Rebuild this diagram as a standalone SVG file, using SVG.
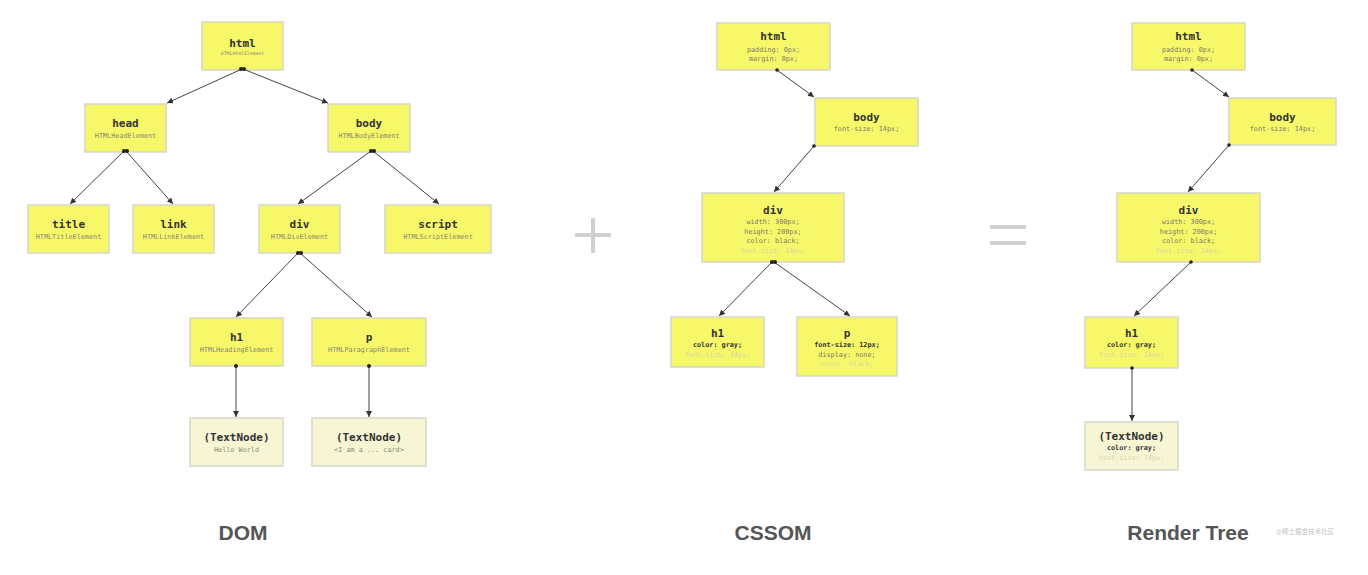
<svg xmlns="http://www.w3.org/2000/svg" width="1368" height="575" viewBox="0 0 1368 575">
<style>
.n{fill:#f7f76a;stroke:#d6d6c8;stroke-width:1.5}
.t{fill:#f6f6d4;stroke:#d6d6c8;stroke-width:1.5}
.h{font-family:"DejaVu Sans Mono",monospace;font-size:11px;font-weight:bold;fill:#333;text-anchor:middle}
.s{font-family:"DejaVu Sans Mono",monospace;font-size:6.8px;fill:#8a8a70;text-anchor:middle}
.c{font-family:"DejaVu Sans Mono",monospace;font-size:6.8px;fill:#7a7a66;text-anchor:middle}
.e{font-family:"DejaVu Sans Mono",monospace;font-size:6.8px;fill:#333;font-weight:bold;text-anchor:middle}
.f{font-family:"DejaVu Sans Mono",monospace;font-size:6.8px;fill:#d8d8a4;text-anchor:middle}
.lbl{font-family:"Liberation Sans",Arial,sans-serif;font-size:21px;font-weight:bold;fill:#555;text-anchor:middle}
.k{stroke:#444;stroke-width:1;fill:none;marker-end:url(#arr)}
.d{fill:#222}
</style>
<defs>
<marker id="arr" markerUnits="userSpaceOnUse" markerWidth="7" markerHeight="6" refX="6" refY="3" orient="auto"><path d="M0,0 L6,3 L0,6 z" fill="#333"/></marker>
</defs>
<rect width="1368" height="575" fill="#fff"/>

<!-- DOM -->
<g id="dom-html"><rect class="n" x="202" y="22" width="81" height="48"/><text class="h" x="242.5" y="47">html</text><text class="s" x="242.5" y="55" style="font-size:4.8px">HTMLHtmlElement</text></g>
<g id="dom-head"><rect class="n" x="85" y="104" width="81" height="48"/><text class="h" x="125.5" y="127">head</text><text class="s" x="125.5" y="138">HTMLHeadElement</text></g>
<g id="dom-body"><rect class="n" x="328" y="104" width="82" height="48"/><text class="h" x="369" y="127">body</text><text class="s" x="369" y="138">HTMLBodyElement</text></g>
<g id="dom-title"><rect class="n" x="28" y="205" width="81" height="48"/><text class="h" x="68.5" y="228">title</text><text class="s" x="68.5" y="239">HTMLTitleElement</text></g>
<g id="dom-link"><rect class="n" x="133" y="205" width="81" height="48"/><text class="h" x="173.5" y="228">link</text><text class="s" x="173.5" y="239">HTMLLinkElement</text></g>
<g id="dom-div"><rect class="n" x="259" y="205" width="81" height="48"/><text class="h" x="299.5" y="228">div</text><text class="s" x="299.5" y="239">HTMLDivElement</text></g>
<g id="dom-script"><rect class="n" x="385" y="205" width="106" height="48"/><text class="h" x="438" y="228">script</text><text class="s" x="438" y="239">HTMLScriptElement</text></g>
<g id="dom-h1"><rect class="n" x="190" y="318" width="93" height="48"/><text class="h" x="236.5" y="341">h1</text><text class="s" x="236.5" y="352">HTMLHeadingElement</text></g>
<g id="dom-p"><rect class="n" x="312" y="318" width="114" height="48"/><text class="h" x="369" y="341">p</text><text class="s" x="369" y="352">HTMLParagraphElement</text></g>
<g id="dom-text1"><rect class="t" x="190" y="418" width="93" height="48"/><text class="h" x="236.5" y="441">(TextNode)</text><text class="s" x="236.5" y="452">Hello World</text></g>
<g id="dom-text2"><rect class="t" x="312" y="418" width="114" height="48"/><text class="h" x="369" y="441">(TextNode)</text><text class="s" x="369" y="452">&lt;I am a ... card&gt;</text></g>

<!-- CSSOM -->
<g id="css-html"><rect class="n" x="717" y="23" width="113" height="47"/><text class="h" x="773.5" y="40">html</text><text class="c" x="773.5" y="52">padding: 0px;</text><text class="c" x="773.5" y="61">margin: 0px;</text></g>
<g id="css-body"><rect class="n" x="815" y="98" width="103" height="48"/><text class="h" x="866.5" y="121">body</text><text class="c" x="866.5" y="131">font-size: 14px;</text></g>
<g id="css-div"><rect class="n" x="702" y="193" width="142" height="69"/><text class="h" x="773" y="214">div</text><text class="c" x="773" y="224">width: 300px;</text><text class="c" x="773" y="233.5">height: 200px;</text><text class="c" x="773" y="243">color: black;</text><text class="f" x="773" y="252.5">font-size: 14px;</text></g>
<g id="css-h1"><rect class="n" x="671" y="317" width="93" height="50"/><text class="h" x="717.5" y="337">h1</text><text class="e" x="717.5" y="347">color: gray;</text><text class="f" x="717.5" y="356.5">font-size: 14px;</text></g>
<g id="css-p"><rect class="n" x="797" y="317" width="100" height="59"/><text class="h" x="847" y="337">p</text><text class="e" x="847" y="347">font-size: 12px;</text><text class="c" x="847" y="356.5">display: none;</text><text class="f" x="847" y="366">color: black;</text></g>

<!-- Render Tree -->
<g id="rt-html"><rect class="n" x="1132" y="23" width="113" height="47"/><text class="h" x="1188.5" y="40">html</text><text class="c" x="1188.5" y="52">padding: 0px;</text><text class="c" x="1188.5" y="61">margin: 0px;</text></g>
<g id="rt-body"><rect class="n" x="1229" y="98" width="107" height="47"/><text class="h" x="1282.5" y="121">body</text><text class="c" x="1282.5" y="131">font-size: 14px;</text></g>
<g id="rt-div"><rect class="n" x="1117" y="193" width="143" height="69"/><text class="h" x="1188.5" y="214">div</text><text class="c" x="1188.5" y="224">width: 300px;</text><text class="c" x="1188.5" y="233.5">height: 200px;</text><text class="c" x="1188.5" y="243">color: black;</text><text class="f" x="1188.5" y="252.5">font-size: 14px;</text></g>
<g id="rt-h1"><rect class="n" x="1085" y="317" width="93" height="51"/><text class="h" x="1131.5" y="337">h1</text><text class="e" x="1131.5" y="347">color: gray;</text><text class="f" x="1131.5" y="356.5">font-size: 14px;</text></g>
<g id="rt-text"><rect class="t" x="1085" y="422" width="93" height="48"/><text class="h" x="1131.5" y="440">(TextNode)</text><text class="e" x="1131.5" y="450">color: gray;</text><text class="f" x="1131.5" y="459.5">font-size: 14px;</text></g>

<g id="connectors">
<line class="k" x1="242" y1="69" x2="167" y2="103"/>
<line class="k" x1="243" y1="69" x2="328" y2="103"/>
<line class="k" x1="124" y1="151" x2="70" y2="204"/>
<line class="k" x1="126" y1="151" x2="173" y2="204"/>
<line class="k" x1="371" y1="151" x2="298" y2="204"/>
<line class="k" x1="373" y1="151" x2="439" y2="204"/>
<line class="k" x1="298" y1="253" x2="236" y2="317"/>
<line class="k" x1="300" y1="253" x2="372" y2="317"/>
<line class="k" x1="236" y1="366" x2="236" y2="417"/>
<line class="k" x1="369" y1="366" x2="369" y2="417"/>

<line class="k" x1="777" y1="70" x2="814" y2="97"/>
<line class="k" x1="814" y1="146" x2="774" y2="192"/>
<line class="k" x1="772" y1="262" x2="719" y2="316"/>
<line class="k" x1="774" y1="262" x2="850" y2="316"/>

<line class="k" x1="1192" y1="70" x2="1229" y2="97"/>
<line class="k" x1="1229" y1="145" x2="1188" y2="192"/>
<line class="k" x1="1191" y1="262" x2="1134" y2="316"/>
<line class="k" x1="1132" y1="368" x2="1132" y2="421"/>

<circle class="d" cx="241" cy="69" r="2"/><circle class="d" cx="244" cy="69" r="2"/>
<circle class="d" cx="124" cy="151" r="2"/><circle class="d" cx="127" cy="151" r="2"/>
<circle class="d" cx="371" cy="151" r="2"/><circle class="d" cx="374" cy="151" r="2"/>
<circle class="d" cx="298" cy="253" r="2"/><circle class="d" cx="301" cy="253" r="2"/>
<circle class="d" cx="236" cy="366" r="2"/><circle class="d" cx="369" cy="366" r="2"/>
<circle class="d" cx="777" cy="70" r="1.8"/><circle class="d" cx="814" cy="146" r="1.8"/>
<circle class="d" cx="772" cy="262" r="2"/><circle class="d" cx="775" cy="262" r="2"/>
<circle class="d" cx="1192" cy="70" r="1.8"/><circle class="d" cx="1229" cy="145" r="1.8"/>
<circle class="d" cx="1191" cy="262" r="1.8"/><circle class="d" cx="1132" cy="368" r="1.8"/>
</g>

<!-- operators -->
<g id="plus" fill="#d0d0d0"><rect x="575" y="233" width="36" height="4"/><rect x="591" y="218" width="4" height="35"/></g>
<g id="equals" fill="#d0d0d0"><rect x="990" y="225" width="36" height="4"/><rect x="990" y="241" width="36" height="4"/></g>

<text class="lbl" x="243" y="540">DOM</text>
<text class="lbl" x="773" y="540">CSSOM</text>
<text class="lbl" x="1188" y="540">Render Tree</text>
<text x="1305" y="534" font-family="'Noto Sans CJK SC',sans-serif" font-size="6.5" fill="#c4c4c4" text-anchor="middle">@稀土掘金技术社区</text>
</svg>
